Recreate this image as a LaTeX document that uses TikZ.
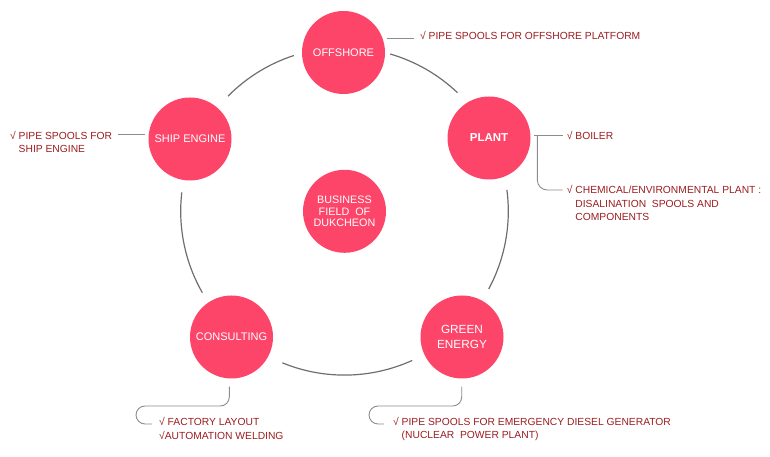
\documentclass[tikz,border=0pt]{standalone}
\usepackage{fontspec}
\setmainfont{Liberation Sans}
\usetikzlibrary{calc}
\definecolor{bubble}{HTML}{FD4469}
\definecolor{note}{HTML}{9B1C1F}
\definecolor{ringgray}{HTML}{6E6E6E}
\definecolor{conngray}{HTML}{8C8C8C}
\newcommand{\sq}{√}
\begin{document}
\begin{tikzpicture}[x=1pt,y=1pt,
  bub/.style={circle, fill=bubble, minimum size=83pt, inner sep=0pt, text=white, align=center, font=\fontsize{11}{13}\selectfont},
  ann/.style={anchor=base west, text=note, inner sep=0pt, font=\fontsize{10.3}{13.5}\selectfont},
  ringarc/.style={draw=ringgray, line width=1.2pt},
  conn/.style={draw=conngray, line width=0.9pt}]
\useasboundingbox (0,0) rectangle (770,457);

% ring centre
\coordinate (c) at (344.5,245.7);

% ring segments
\draw[ringarc] (c) ++(108:163.8) arc[start angle=108, end angle=135.3, radius=163.8];
\draw[ringarc] (c) ++(46.4:163.8) arc[start angle=46.4, end angle=73.8, radius=163.8];
\draw[ringarc] (c) ++(-28.3:163.8) arc[start angle=-28.3, end angle=7.5, radius=163.8];
\draw[ringarc] (c) ++(-112.3:163.8) arc[start angle=-112.3, end angle=-65.6, radius=163.8];
\draw[ringarc] (c) ++(173.4:163.8) arc[start angle=173.4, end angle=209.8, radius=163.8];

% bubbles
\node[bub] (off) at (343.5,404.5) {OFFSHORE};
\node[bub, font=\bfseries\fontsize{11.5}{13}\selectfont] (plant) at (489,319) {PLANT};
\node[bub] (ship) at (190,318) {SHIP ENGINE};
\node[bub, font=\fontsize{10.8}{11.7}\selectfont] (biz) at (344.5,245.7) {BUSINESS\\FIELD\ \ OF\\DUKCHEON};
\node[bub] (cons) at (231.5,120) {CONSULTING};
\node[bub, font=\fontsize{11.8}{14.3}\selectfont] (green) at (462,120) {GREEN\\ENERGY};

% annotations
\node[ann] (offt) at (420,417.3) {\sq\ PIPE SPOOLS FOR OFFSHORE PLATFORM};
\node[ann] (boil) at (566.7,317.6) {\sq\ BOILER};
\node[ann] (chem1) at (566.7,263.3) {\sq\ CHEMICAL/ENVIRONMENTAL PLANT :};
\node[ann] (chem2) at (566.7,249.8) {\hphantom{\sq\ }DISALINATION\ \ SPOOLS AND};
\node[ann] (chem3) at (566.7,236.3) {\hphantom{\sq\ }COMPONENTS};
\node[ann] (ship1) at (10,317.6) {\sq\ PIPE SPOOLS FOR};
\node[ann] (ship2) at (10,304) {\hphantom{\sq\ }SHIP ENGINE};
\node[ann] (cons1) at (159,31.3) {\sq\ FACTORY LAYOUT};
\node[ann] (cons2) at (159,17.6) {\sq AUTOMATION WELDING};
\node[ann] (gr1) at (393,31.6) {\sq\ PIPE SPOOLS FOR EMERGENCY DIESEL GENERATOR};
\node[ann] (gr2) at (393,18.3) {\hphantom{\sq\ }(NUCLEAR\ \ POWER PLANT)};

% connector end points
\coordinate (offA) at (386.7,418.7);
\coordinate (offB) at (414,418.7);
\coordinate (plA) at (534,321.7);
\coordinate (plB) at (562.7,321.7);
\coordinate (plC) at (537.3,321.7);
\coordinate (plD) at (562.7,267);
\coordinate (shA) at (145,322.7);
\coordinate (shB) at (118,322.7);
\coordinate (coA) at (229.3,70.3);
\coordinate (coB) at (152,33);
\coordinate (grA) at (461.7,70.3);
\coordinate (grB) at (384,33);

% connectors
\draw[conn] (offA) -- (offB);
\draw[conn] (plA) -- (plB);
\draw[conn, rounded corners=10pt] (plC) -- (plC |- plD) -- (plD);
\draw[conn] (shA) -- (shB);
\draw[conn, rounded corners=9pt] (coA) -- (229.3,51) -- (136,51) -- (136,33) -- (coB);
\draw[conn, rounded corners=9pt] (grA) -- (461.7,51) -- (369,51) -- (369,33) -- (grB);
\end{tikzpicture}
\end{document}
